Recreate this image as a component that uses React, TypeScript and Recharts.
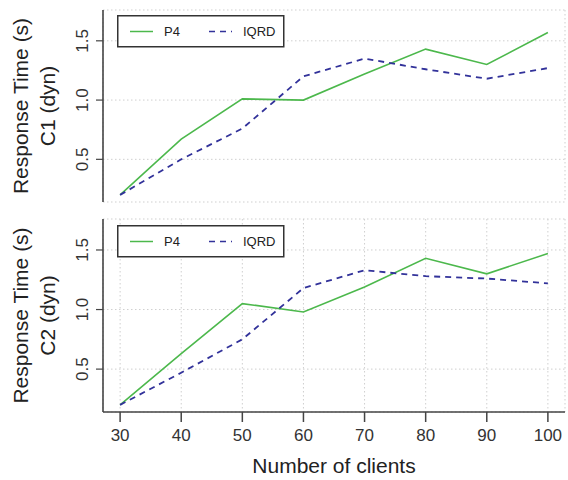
import { LineChart, Line, XAxis, YAxis, CartesianGrid, Legend } from 'recharts';

// x values (number of clients)
const clients = [30, 40, 50, 60, 70, 80, 90, 100];

// C1 (dyn) panel
const c1P4 = [0.2, 0.67, 1.01, 1.0, 1.22, 1.43, 1.3, 1.57];
const c1Iqrd = [0.2, 0.5, 0.76, 1.2, 1.35, 1.26, 1.18, 1.27];

// C2 (dyn) panel
const c2P4 = [0.2, 0.63, 1.05, 0.98, 1.19, 1.43, 1.3, 1.47];
const c2Iqrd = [0.2, 0.47, 0.75, 1.18, 1.33, 1.28, 1.26, 1.22];

const xTicks = [30, 40, 50, 60, 70, 80, 90, 100];
const yTicks = [0.5, 1.0, 1.5];

const FONT = '"Liberation Sans", Arial, Helvetica, sans-serif';
const GREEN = '#4cb84c';
const BLUE = '#32329a';
const FRAME = '#444';
const DASH: Record<string, string | undefined> = { p4: undefined, iqrd: '6 5' };
const ORDER = ['p4', 'iqrd'];

const toRows = (p4: number[], iqrd: number[]) =>
  clients.map((c, i) => ({ clients: c, p4: p4[i], iqrd: iqrd[i] }));

const c1Data = toRows(c1P4, c1Iqrd);
const c2Data = toRows(c2P4, c2Iqrd);

function YTick({ x, y, payload }: any) {
  return (
    <g transform={`translate(${x - 8},${y}) rotate(-90)`}>
      <text textAnchor="middle" fontSize={17} fill="#333" fontFamily={FONT}>
        {Number(payload.value).toFixed(1)}
      </text>
    </g>
  );
}

function YTitle({ viewBox, second }: any) {
  const cy = viewBox.y + viewBox.height / 2;
  return (
    <g fontFamily={FONT} fontSize={21} fill="#222">
      <text transform={`translate(28,${cy}) rotate(-90)`} textAnchor="middle">
        Response Time (s)
      </text>
      <text transform={`translate(54.5,${cy}) rotate(-90)`} textAnchor="middle">
        {second}
      </text>
    </g>
  );
}

function LegendBox({ payload }: any) {
  const items = [...(payload || [])].sort(
    (a: any, b: any) => ORDER.indexOf(a.dataKey) - ORDER.indexOf(b.dataKey)
  );
  return (
    <svg width={168} height={33} style={{ display: 'block' }}>
      <rect x={0.75} y={0.75} width={166} height={31} fill="#fff" stroke="#333" strokeWidth={1.5} />
      {items.map((p: any, i: number) => (
        <g key={p.value} transform={`translate(${13 + i * 79},16.5)`}>
          <line x1={0} x2={23} y1={0} y2={0} stroke={p.color} strokeWidth={1.5} strokeDasharray={DASH[p.dataKey]} />
          <text x={34} dy="0.36em" fontSize={13} fill="#222" fontFamily={FONT}>
            {p.value}
          </text>
        </g>
      ))}
    </svg>
  );
}

function Panel({ data, second, bottom }: { data: any[]; second: string; bottom: boolean }) {
  const height = bottom ? 270 : 212;
  return (
    <LineChart
      width={568}
      height={height}
      data={data}
      margin={{ top: bottom ? 9 : 10, right: 3, left: 0, bottom: bottom ? 0 : 10 }}
      style={{ fontFamily: FONT }}
    >
      <CartesianGrid stroke="#cfcfcf" strokeDasharray="1.5 2.5" />
      <XAxis
        dataKey="clients"
        type="number"
        domain={[27.2, 102.8]}
        ticks={xTicks}
        allowDataOverflow
        height={bottom ? 68 : 0}
        axisLine={{ stroke: FRAME, strokeWidth: 1.6 }}
        tickLine={bottom ? { stroke: FRAME, strokeWidth: 1.5 } : false}
        tickSize={10}
        tickMargin={7}
        tick={bottom ? { fontSize: 17, fill: '#333', fontFamily: FONT } : false}
        label={
          bottom
            ? { value: 'Number of clients', position: 'insideBottom', offset: 7, fontSize: 21, fill: '#222', fontFamily: FONT }
            : undefined
        }
      />
      <XAxis
        xAxisId="top"
        orientation="top"
        dataKey="clients"
        type="number"
        domain={[27.2, 102.8]}
        height={0}
        tick={false}
        tickLine={false}
        axisLine={{ stroke: FRAME, strokeWidth: 1.6 }}
      />
      <YAxis
        type="number"
        domain={[0.14, 1.76]}
        ticks={yTicks}
        allowDataOverflow
        width={103}
        axisLine={{ stroke: FRAME, strokeWidth: 1.6 }}
        tickLine={{ stroke: FRAME, strokeWidth: 1.2 }}
        tickSize={7}
        tickMargin={0}
        tick={<YTick />}
        label={<YTitle second={second} />}
      />
      <YAxis
        yAxisId="right"
        orientation="right"
        type="number"
        domain={[0.14, 1.76]}
        width={0}
        tick={false}
        tickLine={false}
        axisLine={{ stroke: FRAME, strokeWidth: 1.6 }}
      />
      <Legend
        layout="horizontal"
        verticalAlign="middle"
        align="center"
        content={<LegendBox />}
        wrapperStyle={{ left: 117, top: 15, width: 168, height: 33 }}
      />
      <Line
        dataKey="p4"
        name="P4"
        stroke={GREEN}
        strokeWidth={1.6}
        dot={false}
        isAnimationActive={false}
      />
      <Line
        dataKey="iqrd"
        name="IQRD"
        stroke={BLUE}
        strokeWidth={1.8}
        strokeDasharray={DASH.iqrd}
        dot={false}
        isAnimationActive={false}
      />
    </LineChart>
  );
}

export default function App() {
  return (
    <div style={{ position: 'absolute', left: 0, top: 0, width: 568, height: 480, background: '#fff' }}>
      <div style={{ position: 'absolute', left: 0, top: 0 }}>
        <Panel data={c1Data} second="C1 (dyn)" bottom={false} />
      </div>
      <div style={{ position: 'absolute', left: 0, top: 210 }}>
        <Panel data={c2Data} second="C2 (dyn)" bottom={true} />
      </div>
    </div>
  );
}
